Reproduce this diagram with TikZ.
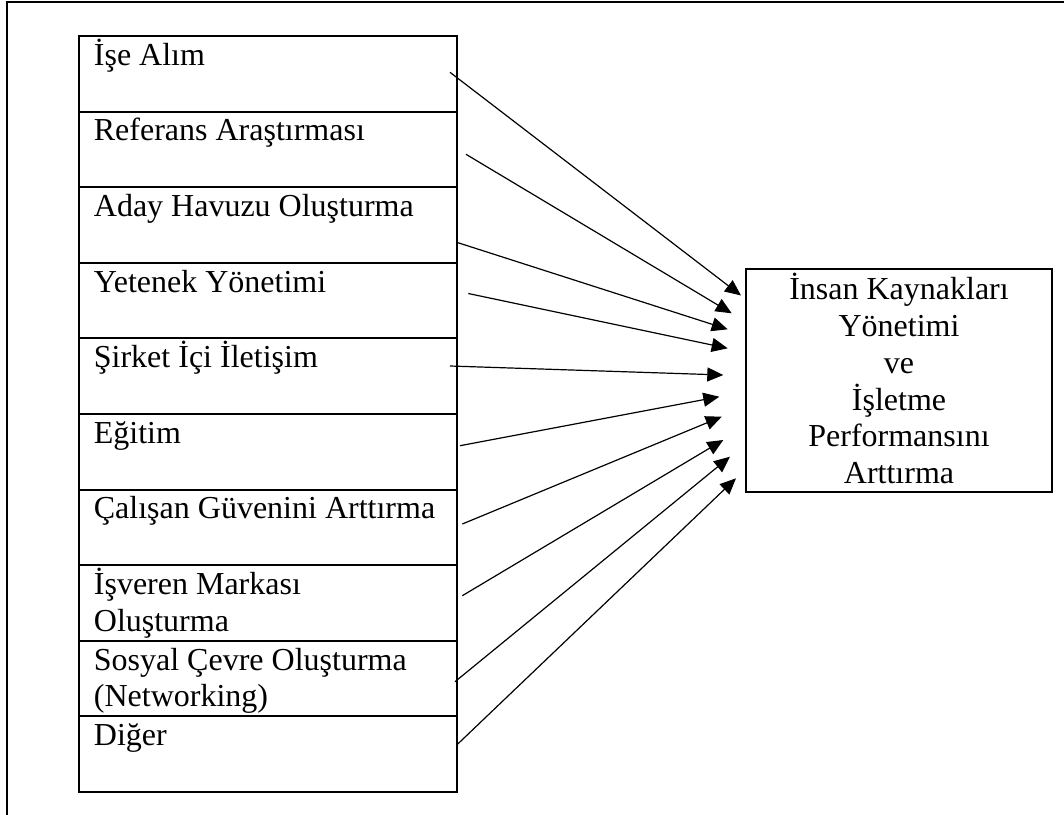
\documentclass[tikz,border=0pt]{standalone}
\usepackage{fontspec}
\setmainfont{Liberation Serif}
\usetikzlibrary{arrows.meta,calc}
\tikzset{
  frameline/.style={line width=2pt, line cap=rect},
  rowbox/.style={draw, line width=2pt, rectangle, minimum width=378pt, minimum height=75.6pt, inner sep=0pt, anchor=north west},
  rowtext/.style={anchor=north west, align=left, inner sep=0pt, font=\fontsize{32}{36.8}\selectfont},
  goalbox/.style={draw, line width=2pt, rectangle, minimum width=306pt, minimum height=223pt, inner sep=0pt, align=center, font=\fontsize{32}{36.8}\selectfont},
  arrowline/.style={line width=1.2pt, -{Triangle[length=16pt, width=14pt]}}
}
\newcommand{\fs}{\rule{0pt}{30pt}}
\begin{document}
\begin{tikzpicture}[x=1pt, y=-1pt]
\useasboundingbox (0,0) rectangle (1064,814);
% outer frame
\draw[frameline] (7.3,814) -- (7.3,2) -- (1064,2);
% left column rows
\foreach \i/\t in {1/{İşe Alım}, 2/{Referans Araştırması}, 3/{Aday Havuzu Oluşturma}, 4/{Yetenek Yönetimi}, 5/{Şirket İçi İletişim}, 6/{Eğitim}, 7/{Çalışan Güvenini Arttırma}, 8/{İşveren Markası\\Oluşturma}, 9/{Sosyal Çevre Oluşturma\\(Networking)}, 10/{Diğer}}{
  \node[rowbox] (b\i) at (77.7, {35 + (\i-1)*75.6}) {};
  \node[rowtext] (l\i) at ($(b\i.north west)+(16,0)$) {\fs\t};
}
% goal box
\node[goalbox] (hr) at (899,380.5) {İnsan Kaynakları\\Yönetimi\\ve\\İşletme\\Performansını\\Arttırma\rule[-4pt]{0pt}{4pt}};
% arrow start and tip points
\coordinate (s1) at (450,72.3);   \coordinate (t1) at (741,295.5);
\coordinate (s2) at (466,154.3);  \coordinate (t2) at (731.7,313.3);
\coordinate (s3) at (456.7,242.3);\coordinate (t3) at (727.7,329.3);
\coordinate (s4) at (468.3,293.5);\coordinate (t4) at (727.7,348.3);
\coordinate (s5) at (450,366);    \coordinate (t5) at (723.3,375);
\coordinate (s6) at (460,445.7);  \coordinate (t6) at (719.3,396.7);
\coordinate (s7) at (462.3,524);  \coordinate (t7) at (721.7,416.7);
\coordinate (s8) at (462.3,595.7);\coordinate (t8) at (723.3,440);
\coordinate (s9) at (455,681.7);  \coordinate (t9) at (730,456.7);
\coordinate (s10) at (456.7,745); \coordinate (t10) at (736,478.3);
\foreach \i in {1,...,10}{
  \draw[arrowline] (s\i) -- (t\i);
}
\end{tikzpicture}
\end{document}
